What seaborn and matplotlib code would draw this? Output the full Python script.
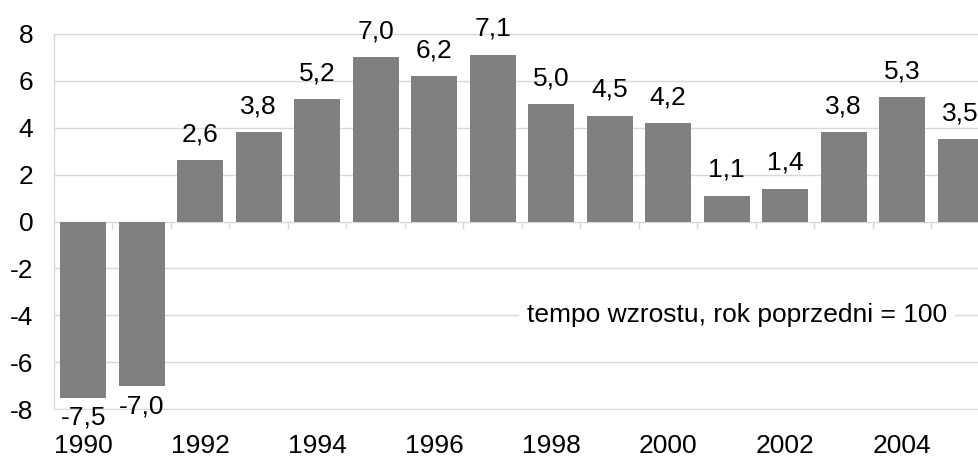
"""
Tempo wzrostu (rok poprzedni = 100), 1990-2005 - wykres słupkowy.
"""

import numpy as np
import pandas as pd
import matplotlib
matplotlib.use("Agg")
import matplotlib.pyplot as plt
import seaborn as sns

# Dane
years = list(range(1990, 2006))
values = [-7.5, -7.0, 2.6, 3.8, 5.2, 7.0, 6.2, 7.1, 5.0, 4.5, 4.2, 1.1, 1.4, 3.8, 5.3, 3.5]
year_labels = [str(y) if y % 2 == 0 else "" for y in years]
y_ticks = [-8, -6, -4, -2, 0, 2, 4, 6, 8]
note = "tempo wzrostu, rok poprzedni = 100"

BAR_COLOR = "#808080"
GRID_COLOR = "#d9d9d9"
FS = 19

sns.set_style("white")
plt.rcParams["font.family"] = ["Liberation Sans", "DejaVu Sans"]
plt.rcParams["text.color"] = "black"

df = pd.DataFrame({"rok": [str(y) for y in years], "tempo": values})

fig = plt.figure(figsize=(9.79, 4.59), dpi=100)
# oś wychodzi poza prawą krawędź obrazka (ostatni słupek przycięty)
ax = fig.add_axes([54 / 979, 49 / 459, 936 / 979, 377 / 459])

sns.barplot(
    data=df, x="rok", y="tempo",
    color=BAR_COLOR, saturation=1, width=0.786,
    linewidth=0, ax=ax
)

ax.set_xlim(-0.5, len(years) - 0.5)
ax.set_ylim(y_ticks[0] - 0.03, y_ticks[-1] + 0.03)
ax.set_yticks(y_ticks)
ax.set_yticklabels([str(t) for t in y_ticks])
ax.set_xticks(range(len(years)))
ax.set_xticklabels(year_labels)
ax.set_xlabel("")
ax.set_ylabel("")

# Siatka i osie
ax.grid(axis="y", color=GRID_COLOR, linewidth=1)
ax.grid(axis="x", visible=False)
ax.set_axisbelow(True)
for side in ["top", "right", "bottom"]:
    ax.spines[side].set_visible(False)
ax.spines["left"].set_color(GRID_COLOR)
ax.spines["left"].set_linewidth(1)
ax.spines["left"].set_bounds(y_ticks[0], y_ticks[-1])

ax.tick_params(axis="y", length=5, width=1, color=GRID_COLOR, pad=10, labelsize=FS, labelcolor="black")
ax.tick_params(axis="x", length=0, pad=17, labelsize=FS, labelcolor="black")

# Kreski podziału kategorii na linii zera
ax.vlines(np.arange(len(years)) + 0.5, 0, -0.34, color=GRID_COLOR, linewidth=1, zorder=1)

# Etykiety danych
for i, v in enumerate(values):
    txt = f"{v:.1f}".replace(".", ",")
    if v >= 0:
        ax.annotate(txt, (i, v), xytext=(0, 10), textcoords="offset points",
                    ha="center", va="bottom", fontsize=FS, color="black",
                    annotation_clip=False)
    else:
        ax.annotate(txt, (i, v), xytext=(0, -6), textcoords="offset points",
                    ha="center", va="top", fontsize=FS, color="black",
                    annotation_clip=False)

# Opis serii
ax.text(11.175, -4, note, ha="center", va="center", fontsize=FS, color="black",
        bbox=dict(boxstyle="square,pad=0.3", facecolor="white", edgecolor="none"))

plt.savefig("out.png", dpi=100)
plt.close()
